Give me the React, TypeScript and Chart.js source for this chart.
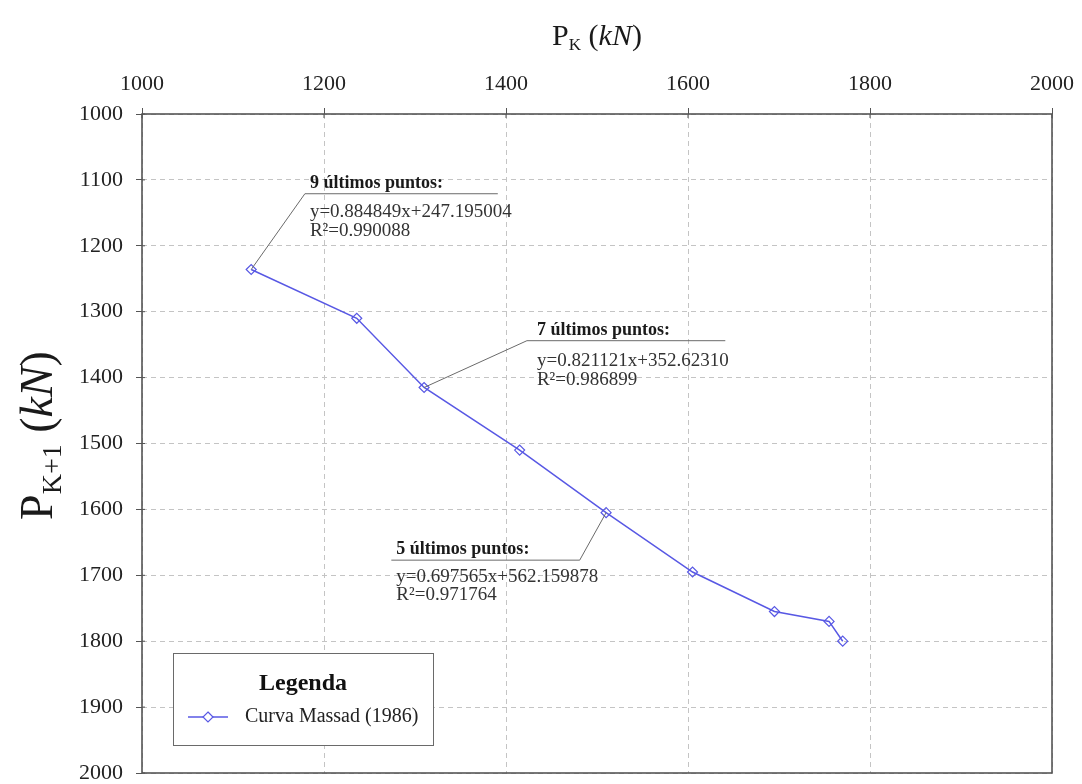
import React, { useEffect, useRef } from 'react';
import { Chart, registerables } from 'chart.js';

Chart.register(...registerables);

// ---------------- data ----------------
const loadsPk = [1120, 1236, 1310, 1415, 1510, 1605, 1695, 1755, 1770];
const loadsPk1 = [1236, 1310, 1415, 1510, 1605, 1695, 1755, 1770, 1800];
const xAxisRange = [1000, 2000];
const yAxisRange = [1000, 2000];
const xTickStep = 200;
const yTickStep = 100;
const seriesName = 'Curva Massad (1986)';
const legendTitle = 'Legenda';
const fitTitles = ['9 últimos puntos:', '7 últimos puntos:', '5 últimos puntos:'];
const fitEquations = ['y=0.884849x+247.195004', 'y=0.821121x+352.62310', 'y=0.697565x+562.159878'];
const fitR2 = ['R²=0.990088', 'R²=0.986899', 'R²=0.971764'];
const fitPointIndex = [0, 2, 4];

// ---------------- styling / layout ----------------
const SERIF = "'Liberation Serif', 'DejaVu Serif', serif";
const LINE_COLOR = '#5858e4';
const FRAME_COLOR = '#555555';
const GRID_COLOR = '#c4c4c4';

// underline anchor of each annotation in axis units; leader starts at left or right end
const ANNOT_LAYOUT = [
  { x0: 1179, x1: 1391, y: 1121, from: 'left', dx: 5, eqDy: 23, r2Dy: 42 },
  { x0: 1423, x1: 1641, y: 1344, from: 'left', dx: 10, eqDy: 25, r2Dy: 44 },
  { x0: 1274, x1: 1481, y: 1677, from: 'right', dx: 5, eqDy: 22, r2Dy: 40 },
];

type Seg = { t: string; font: string; dy?: number };

function drawRich(ctx: CanvasRenderingContext2D, segs: Seg[], x: number, y: number, center: boolean) {
  const widths = segs.map((s) => {
    ctx.font = s.font;
    return ctx.measureText(s.t).width;
  });
  const total = widths.reduce((a, b) => a + b, 0);
  let cx = center ? x - total / 2 : x;
  segs.forEach((s, i) => {
    ctx.font = s.font;
    ctx.fillText(s.t, cx, y + (s.dy || 0));
    cx += widths[i];
  });
}

const decorPlugin = {
  id: 'decor',
  afterDraw(chart: any) {
    const { ctx, chartArea, scales } = chart;
    const xs = scales.x;
    const ys = scales.y;
    ctx.save();

    // frame
    ctx.setLineDash([]);
    ctx.strokeStyle = FRAME_COLOR;
    ctx.lineWidth = 1.6;
    ctx.strokeRect(chartArea.left, chartArea.top, chartArea.right - chartArea.left, chartArea.bottom - chartArea.top);
    // inner tick stubs crossing the axis lines
    ctx.lineWidth = 1;
    ctx.beginPath();
    xs.ticks.forEach((t: any) => {
      const px = xs.getPixelForValue(t.value);
      ctx.moveTo(px, chartArea.top);
      ctx.lineTo(px, chartArea.top + 4);
    });
    ys.ticks.forEach((t: any) => {
      const py = ys.getPixelForValue(t.value);
      ctx.moveTo(chartArea.left, py);
      ctx.lineTo(chartArea.left + 3, py);
    });
    ctx.stroke();

    // axis titles
    ctx.fillStyle = '#1a1a1a';
    ctx.textBaseline = 'alphabetic';
    ctx.textAlign = 'left';
    const cxTop = (chartArea.left + chartArea.right) / 2;
    drawRich(
      ctx,
      [
        { t: 'P', font: `30px ${SERIF}` },
        { t: 'K', font: `17px ${SERIF}`, dy: 5 },
        { t: ' (', font: `30px ${SERIF}` },
        { t: 'kN', font: `italic 30px ${SERIF}` },
        { t: ')', font: `30px ${SERIF}` },
      ],
      cxTop,
      45,
      true
    );
    ctx.save();
    ctx.translate(52, (chartArea.top + chartArea.bottom) / 2 - 8);
    ctx.rotate(-Math.PI / 2);
    drawRich(
      ctx,
      [
        { t: 'P', font: `46px ${SERIF}` },
        { t: 'K+1', font: `28px ${SERIF}`, dy: 9 },
        { t: ' (', font: `46px ${SERIF}` },
        { t: 'kN', font: `italic 46px ${SERIF}` },
        { t: ')', font: `46px ${SERIF}` },
      ],
      0,
      0,
      true
    );
    ctx.restore();

    // regression annotations
    const meta = chart.getDatasetMeta(0);
    ANNOT_LAYOUT.forEach((a, i) => {
      const px0 = xs.getPixelForValue(a.x0);
      const px1 = xs.getPixelForValue(a.x1);
      const py = ys.getPixelForValue(a.y);
      const pt = meta.data[fitPointIndex[i]];
      ctx.strokeStyle = '#6a6a6a';
      ctx.lineWidth = 1;
      ctx.beginPath();
      ctx.moveTo(px0, py);
      ctx.lineTo(px1, py);
      const sx = a.from === 'left' ? px0 : px1;
      ctx.moveTo(sx, py);
      ctx.lineTo(pt.x, pt.y);
      ctx.stroke();
      ctx.fillStyle = '#1a1a1a';
      ctx.textAlign = 'left';
      ctx.textBaseline = 'alphabetic';
      ctx.font = `bold 18px ${SERIF}`;
      ctx.fillText(fitTitles[i], px0 + a.dx, py - 6);
      ctx.font = `19px ${SERIF}`;
      ctx.fillStyle = '#333';
      ctx.fillText(fitEquations[i], px0 + a.dx, py + a.eqDy);
      ctx.fillText(fitR2[i], px0 + a.dx, py + a.r2Dy);
    });

    // legend box
    const ds = chart.data.datasets[0];
    const bx = chartArea.left + 31;
    const bw = 260;
    const bh = 92;
    const by = chartArea.bottom - 28 - bh;
    ctx.fillStyle = '#ffffff';
    ctx.fillRect(bx, by, bw, bh);
    ctx.strokeStyle = '#6a6a6a';
    ctx.lineWidth = 1;
    ctx.strokeRect(bx + 0.5, by + 0.5, bw, bh);
    ctx.fillStyle = '#111';
    ctx.textAlign = 'center';
    ctx.textBaseline = 'middle';
    ctx.font = `bold 24px ${SERIF}`;
    ctx.fillText(legendTitle, bx + bw / 2, by + 31);
    const ly = by + 64;
    ctx.strokeStyle = ds.borderColor;
    ctx.lineWidth = ds.borderWidth;
    ctx.beginPath();
    ctx.moveTo(bx + 15, ly);
    ctx.lineTo(bx + 55, ly);
    ctx.stroke();
    const mx = bx + 35;
    const r = ds.pointRadius;
    ctx.lineWidth = ds.pointBorderWidth;
    ctx.fillStyle = '#fff';
    ctx.beginPath();
    ctx.moveTo(mx, ly - r);
    ctx.lineTo(mx + r, ly);
    ctx.lineTo(mx, ly + r);
    ctx.lineTo(mx - r, ly);
    ctx.closePath();
    ctx.fill();
    ctx.stroke();
    ctx.fillStyle = '#222';
    ctx.textAlign = 'left';
    ctx.font = `20px ${SERIF}`;
    ctx.fillText(ds.label, bx + 72, ly);

    ctx.restore();
  },
};

export default function App() {
  const ref = useRef<HTMLCanvasElement>(null);

  useEffect(() => {
    document.body.style.margin = '0';
    if (!ref.current) return;
    const points = loadsPk.map((x, i) => ({ x, y: loadsPk1[i] }));
    const tickFont = { family: SERIF, size: 22 };
    const fmt = (v: any) => String(v);
    const chart = new Chart(ref.current, {
      type: 'scatter',
      data: {
        datasets: [
          {
            label: seriesName,
            data: points,
            showLine: true,
            borderColor: LINE_COLOR,
            borderWidth: 1.5,
            pointStyle: 'rectRot',
            pointRadius: 5,
            pointBorderWidth: 1.2,
            pointBackgroundColor: 'rgba(255,255,255,0)',
            pointBorderColor: LINE_COLOR,
          } as any,
        ],
      },
      options: {
        animation: false,
        responsive: false,
        devicePixelRatio: 1,
        layout: { padding: { left: 0, top: 0, right: 30, bottom: 11 } },
        plugins: { legend: { display: false }, tooltip: { enabled: false } },
        scales: {
          x: {
            type: 'linear',
            position: 'top',
            min: xAxisRange[0],
            max: xAxisRange[1],
            ticks: { stepSize: xTickStep, font: tickFont, color: '#222', padding: 11, callback: fmt },
            grid: {
              color: GRID_COLOR,
              tickColor: FRAME_COLOR,
              tickLength: 6,
              tickBorderDash: [],
            } as any,
            border: { display: false, dash: [5, 4] },
            afterFit: (s: any) => {
              s.height = 114;
              s.paddingLeft = 0;
              s.paddingRight = 0;
            },
          },
          y: {
            type: 'linear',
            reverse: true,
            min: yAxisRange[0],
            max: yAxisRange[1],
            ticks: { stepSize: yTickStep, font: tickFont, color: '#222', padding: 13, callback: fmt },
            grid: {
              color: GRID_COLOR,
              tickColor: FRAME_COLOR,
              tickLength: 6,
              tickBorderDash: [],
            } as any,
            border: { display: false, dash: [5, 4] },
            afterFit: (s: any) => {
              s.width = 142;
              s.paddingTop = 0;
              s.paddingBottom = 0;
            },
          },
        },
      },
      plugins: [decorPlugin],
    });
    return () => chart.destroy();
  }, []);

  return (
    <div style={{ width: 1082, height: 784, background: '#fff' }}>
      <canvas ref={ref} width={1082} height={784} style={{ display: 'block' }} />
    </div>
  );
}
